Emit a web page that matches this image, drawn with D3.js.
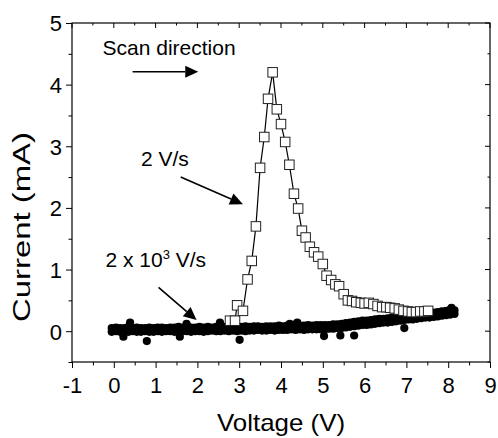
<!DOCTYPE html>
<html>
<head>
<meta charset="utf-8">
<script src="https://cdn.jsdelivr.net/npm/d3@7"></script>
<style>
  body { margin: 0; background: #fff; }
  text { font-family: "Liberation Sans", Arial, sans-serif; fill: #000; }
</style>
</head>
<body>
<div id="chart"></div>
<script>
// Slow scan, 2 V/s (open squares joined by a line)
const slowV = [2.78, 2.90, 2.95, 3.09, 3.20, 3.30, 3.40, 3.50, 3.60, 3.69, 3.80, 3.90, 4.00, 4.10, 4.20, 4.31,
  4.41, 4.50, 4.59, 4.69, 4.79, 4.89, 5.00, 5.09, 5.20, 5.30, 5.39, 5.50, 5.60, 5.70, 5.80, 5.91, 6.00, 6.10,
  6.21, 6.31, 6.42, 6.52, 6.61, 6.72, 6.82, 6.93, 7.04, 7.13, 7.23, 7.33, 7.43, 7.52];
const slowI = [0.17, 0.17, 0.42, 0.33, 0.84, 1.14, 1.70, 2.65, 3.15, 3.77, 4.20, 3.60, 3.36, 3.07, 2.70, 2.23,
  1.99, 1.63, 1.52, 1.37, 1.28, 1.21, 1.09, 0.90, 0.83, 0.76, 0.73, 0.60, 0.50, 0.49, 0.47, 0.46, 0.45, 0.46,
  0.44, 0.41, 0.39, 0.39, 0.38, 0.37, 0.35, 0.33, 0.32, 0.31, 0.31, 0.32, 0.32, 0.33];

// Fast scan, 2 x 10^3 V/s (filled circles), forward and return sweeps
const fastV = [-0.05, 0.05, 0.15, 0.25, 0.35, 0.45, 0.55, 0.65, 0.75, 0.85, 0.95, 1.05, 1.15, 1.25, 1.35, 1.45,
  1.55, 1.65, 1.75, 1.85, 1.95, 2.05, 2.15, 2.25, 2.35, 2.45, 2.55, 2.65, 2.75, 2.85, 2.95, 3.05, 3.15, 3.25,
  3.35, 3.45, 3.55, 3.65, 3.75, 3.85, 3.95, 4.05, 4.15, 4.25, 4.35, 4.45, 4.55, 4.65, 4.75, 4.85, 4.95, 5.05,
  5.15, 5.25, 5.35, 5.45, 5.55, 5.65, 5.75, 5.85, 5.95, 6.05, 6.15, 6.25, 6.35, 6.45, 6.55, 6.65, 6.75, 6.85,
  6.95, 7.05, 7.15, 7.25, 7.35, 7.45, 7.55, 7.65, 7.75, 7.85, 7.95, 8.05, 8.15];
const fastFwdI = [0.05, 0.06, 0.05, 0.05, 0.07, 0.05, 0.06, 0.05, 0.05, 0.06, 0.05, 0.06, 0.06, 0.05, 0.06, 0.06,
  0.07, 0.06, 0.09, 0.06, 0.06, 0.07, 0.06, 0.07, 0.06, 0.07, 0.09, 0.07, 0.06, 0.07, 0.07, 0.07, 0.08, 0.07,
  0.08, 0.08, 0.07, 0.08, 0.08, 0.08, 0.09, 0.08, 0.09, 0.09, 0.11, 0.09, 0.09, 0.10, 0.09, 0.10, 0.10, 0.10,
  0.10, 0.11, 0.11, 0.12, 0.13, 0.14, 0.15, 0.16, 0.17, 0.17, 0.18, 0.19, 0.20, 0.20, 0.21, 0.22, 0.23, 0.24,
  0.25, 0.25, 0.26, 0.27, 0.28, 0.28, 0.29, 0.30, 0.31, 0.32, 0.33, 0.35, 0.34];
const fastRevI = [-0.01, 0.00, -0.01, -0.02, -0.01, 0.00, -0.01, -0.01, 0.00, -0.01, -0.01, 0.00, -0.01, 0.00, 0.00, -0.01,
  -0.02, 0.00, 0.00, -0.01, 0.00, 0.00, -0.01, 0.00, 0.01, 0.00, 0.00, 0.01, 0.00, 0.01, 0.00, 0.01, 0.00, 0.01,
  0.01, 0.02, 0.01, 0.01, 0.02, 0.01, 0.02, 0.02, 0.02, 0.03, 0.02, 0.03, 0.02, 0.03, 0.03, 0.03, 0.03, 0.03,
  0.04, 0.04, 0.05, 0.05, 0.06, 0.07, 0.08, 0.09, 0.10, 0.10, 0.11, 0.12, 0.13, 0.14, 0.14, 0.15, 0.16, 0.17,
  0.18, 0.19, 0.19, 0.20, 0.21, 0.22, 0.22, 0.23, 0.24, 0.25, 0.26, 0.27, 0.28];
// stray points sticking out of the band
const strayV = [0.23, 0.39, 0.79, 1.58, 1.74, 2.54, 3.01, 4.21, 4.39, 5.03, 5.42, 5.75, 6.95, 8.08];
const strayI = [-0.09, 0.14, -0.16, -0.09, 0.12, 0.14, -0.14, 0.12, 0.14, -0.08, -0.07, -0.07, 0.05, 0.38];

const xTicks = [-1, 0, 1, 2, 3, 4, 5, 6, 7, 8, 9];
const yTicks = [0, 1, 2, 3, 4, 5];

const width = 498, height = 438;
const margin = { top: 23, right: 8, bottom: 76, left: 72 };
const plotW = width - margin.left - margin.right;
const plotH = height - margin.top - margin.bottom;

const svg = d3.select("#chart").append("svg")
    .attr("width", width)
    .attr("height", height);

const g = svg.append("g")
    .attr("transform", `translate(${margin.left},${margin.top})`);

const x = d3.scaleLinear().domain([-1, 9]).range([0, plotW]);
const y = d3.scaleLinear().domain([-0.5, 5]).range([plotH, 0]);

const minorX = d3.range(-1, 9.01, 0.5);
const minorY = d3.range(-0.5, 5.01, 0.5);

// axes: major ticks labelled, minor ticks every 0.5
const tickLen = v => (Math.abs(v - Math.round(v)) < 1e-6 ? 6 : 3.5);

const bottomAxis = g.append("g").attr("transform", `translate(0,${plotH})`);
bottomAxis.call(d3.axisBottom(x).tickValues(minorX).tickSize(0).tickFormat(""));
bottomAxis.select(".domain").remove();
bottomAxis.selectAll(".tick line").attr("y2", d => tickLen(d)).attr("stroke", "#000");
bottomAxis.selectAll(".tick")
    .filter(d => xTicks.includes(d))
    .append("text")
    .attr("y", 31)
    .attr("text-anchor", "middle")
    .attr("font-size", 22)
    .text(d => d);

const leftAxis = g.append("g");
leftAxis.call(d3.axisLeft(y).tickValues(minorY).tickSize(0).tickFormat(""));
leftAxis.select(".domain").remove();
leftAxis.selectAll(".tick line").attr("x2", d => -tickLen(d)).attr("stroke", "#000");
leftAxis.selectAll(".tick")
    .filter(d => yTicks.includes(d))
    .append("text")
    .attr("x", -10)
    .attr("dy", "0.36em")
    .attr("text-anchor", "end")
    .attr("font-size", 22)
    .text(d => d);

// mirrored ticks on top and right, pointing in
const topTicks = g.append("g");
topTicks.selectAll("line").data(minorX).join("line")
    .attr("x1", d => x(d)).attr("x2", d => x(d))
    .attr("y1", 0).attr("y2", d => tickLen(d) - 1)
    .attr("stroke", "#000");
const rightTicks = g.append("g");
rightTicks.selectAll("line").data(minorY).join("line")
    .attr("x1", plotW).attr("x2", d => plotW - tickLen(d) + 1)
    .attr("y1", d => y(d)).attr("y2", d => y(d))
    .attr("stroke", "#000");

g.append("rect")
    .attr("width", plotW)
    .attr("height", plotH)
    .attr("fill", "none")
    .attr("stroke", "#000")
    .attr("stroke-width", 1.2);

// fast scan band
const fastPts = fastV.map((v, i) => [v, fastRevI[i]])
    .concat(fastV.map((v, i) => [v, fastFwdI[i]]))
    .concat(strayV.map((v, i) => [v, strayI[i]]));

g.append("g").selectAll("circle")
    .data(fastPts)
    .join("circle")
    .attr("cx", d => x(d[0]))
    .attr("cy", d => y(d[1]))
    .attr("r", 4.1)
    .attr("fill", "#000");

// slow scan
const slowPts = slowV.map((v, i) => [v, slowI[i]]);
const line = d3.line().x(d => x(d[0])).y(d => y(d[1]));

g.append("path")
    .datum(slowPts)
    .attr("d", line)
    .attr("fill", "none")
    .attr("stroke", "#000")
    .attr("stroke-width", 1.2);

const sq = 9.5;
g.append("g").selectAll("rect")
    .data(slowPts)
    .join("rect")
    .attr("x", d => x(d[0]) - sq / 2)
    .attr("y", d => y(d[1]) - sq / 2)
    .attr("width", sq)
    .attr("height", sq)
    .attr("fill", "#fff")
    .attr("stroke", "#222")
    .attr("stroke-width", 1);

// annotations (placed in data units)
const arrow = (v0, i0, v1, i1) => {
    const x0 = x(v0), y0 = y(i0), x1 = x(v1), y1 = y(i1);
    const a = Math.atan2(y1 - y0, x1 - x0);
    const hl = 13, hw = 6;
    const bx = x1 - hl * Math.cos(a), by = y1 - hl * Math.sin(a);
    g.append("line")
        .attr("x1", x0).attr("y1", y0).attr("x2", bx).attr("y2", by)
        .attr("stroke", "#000").attr("stroke-width", 1.6);
    g.append("polygon")
        .attr("points", [
            [x1, y1],
            [bx + hw * Math.sin(a), by - hw * Math.cos(a)],
            [bx - hw * Math.sin(a), by + hw * Math.cos(a)]
        ].map(p => p.join(",")).join(" "))
        .attr("fill", "#000");
};

g.append("text")
    .attr("x", x(-0.27)).attr("y", y(4.48))
    .attr("font-size", 21)
    .text("Scan direction");
arrow(0.45, 4.21, 2.02, 4.21);

g.append("text")
    .attr("x", x(0.65)).attr("y", y(2.68))
    .attr("font-size", 21)
    .text("2 V/s");
arrow(1.60, 2.50, 3.09, 2.06);

const fastLabel = g.append("text")
    .attr("x", x(-0.2)).attr("y", y(1.04))
    .attr("font-size", 21);
fastLabel.append("tspan").text("2 x 10");
fastLabel.append("tspan").attr("font-size", 13).attr("dy", -8).text("3");
fastLabel.append("tspan").attr("dy", 8).text(" V/s");
arrow(1.07, 0.71, 1.98, 0.18);

// axis titles
svg.append("text")
    .attr("x", margin.left + plotW / 2)
    .attr("y", 431)
    .attr("text-anchor", "middle")
    .attr("font-size", 24)
    .attr("textLength", 128)
    .attr("lengthAdjust", "spacingAndGlyphs")
    .text("Voltage (V)");

svg.append("text")
    .attr("transform", "translate(30,227) rotate(-90)")
    .attr("text-anchor", "middle")
    .attr("font-size", 23)
    .attr("textLength", 190)
    .attr("lengthAdjust", "spacingAndGlyphs")
    .text("Current (mA)");
</script>
</body>
</html>
